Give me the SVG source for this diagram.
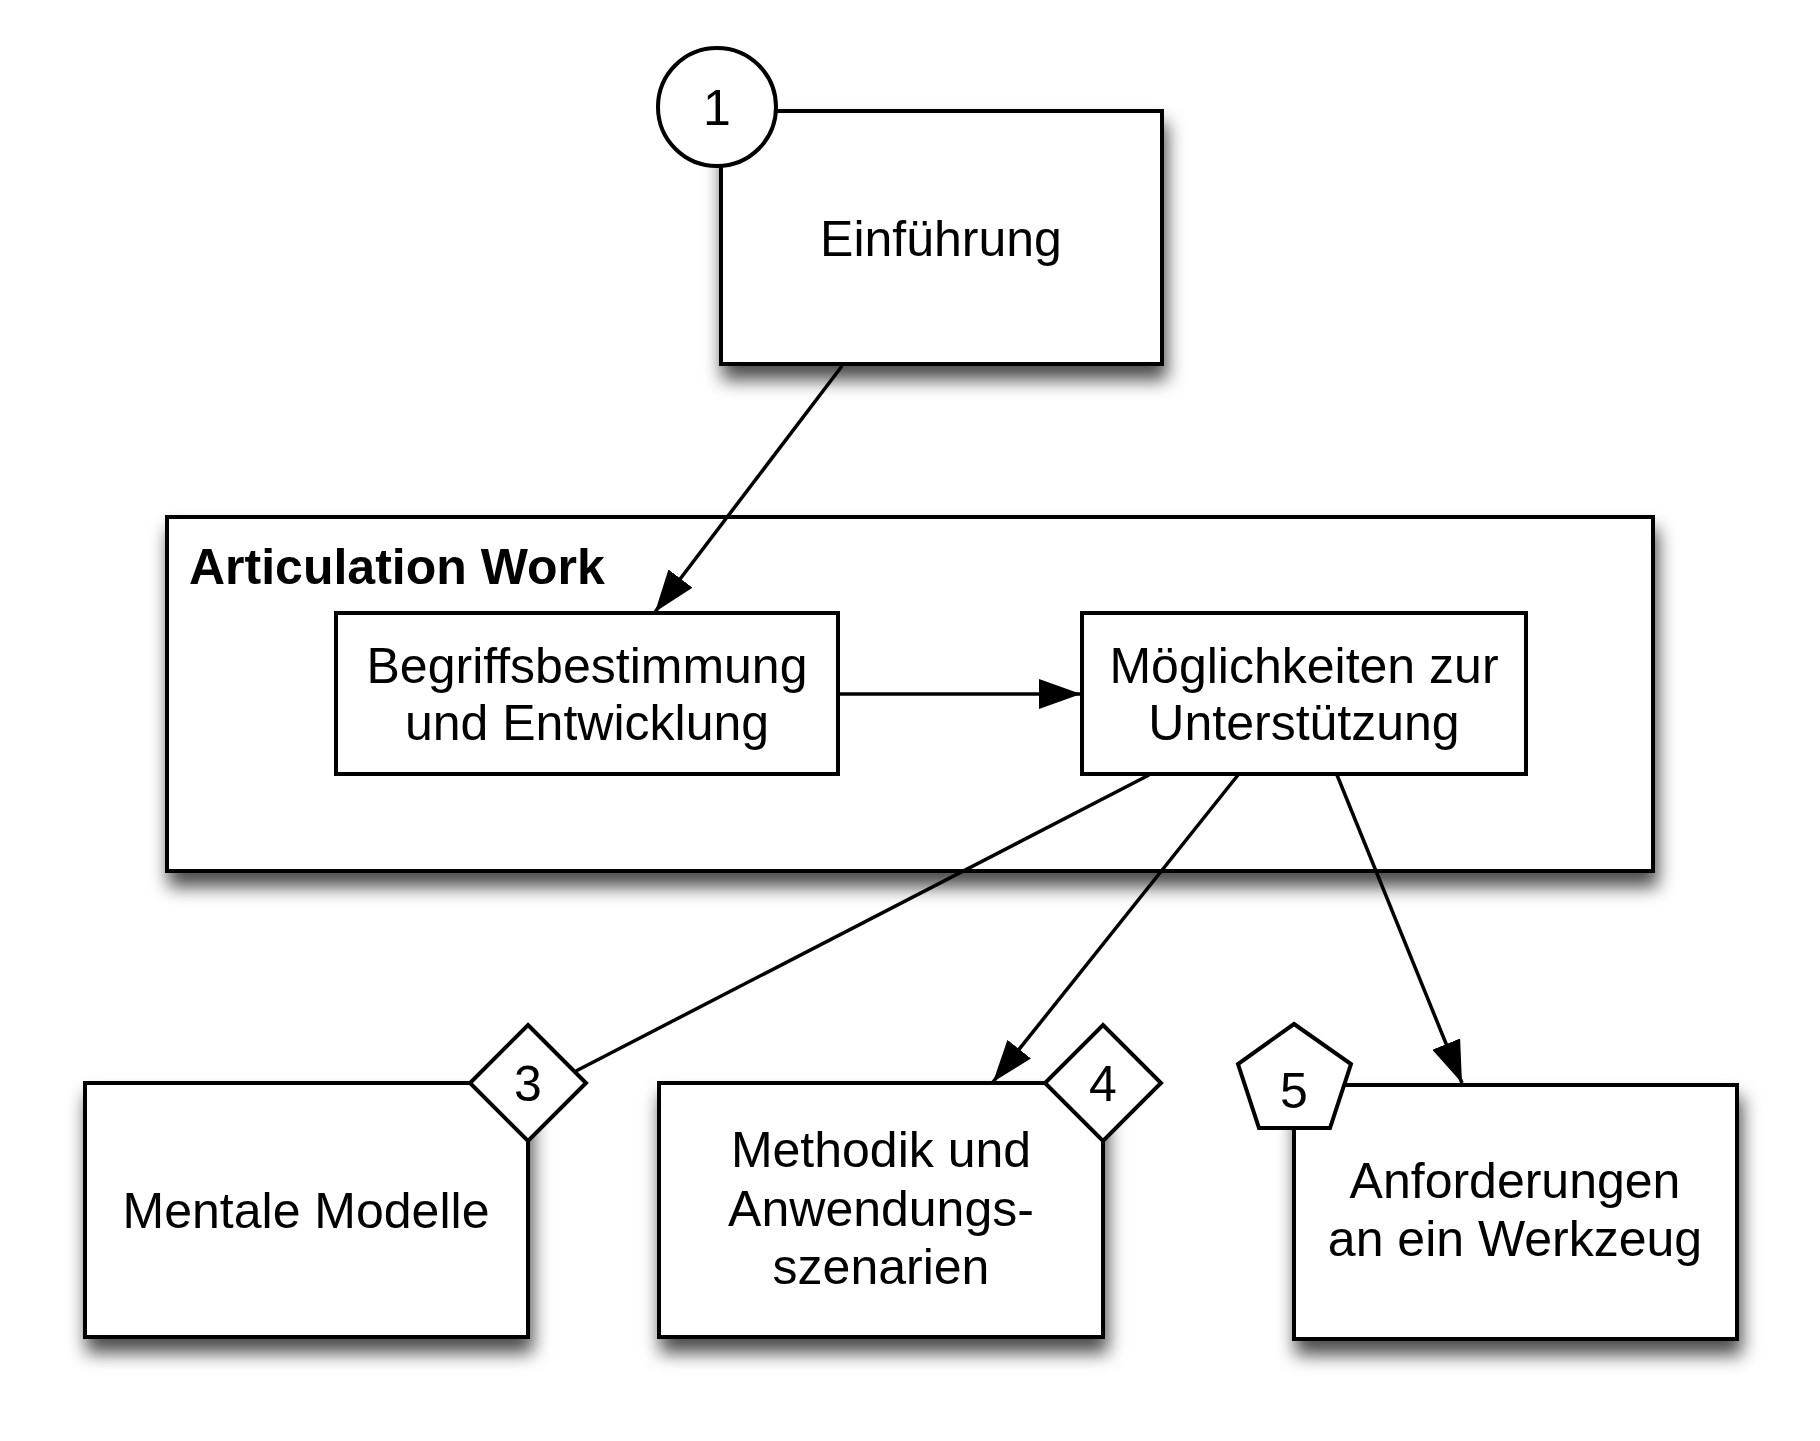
<svg xmlns="http://www.w3.org/2000/svg" width="1820" height="1441" viewBox="0 0 1820 1441">
<style>
.box{fill:#fff;stroke:#000;stroke-width:4}
.sh{filter:url(#shadow)}
.lbl{font-family:"Liberation Sans",Arial,sans-serif;font-size:50px;fill:#000;text-anchor:middle}
.bold{font-weight:bold;text-anchor:start}
.con{fill:none;stroke:#000;stroke-width:3.5}
</style>
<defs>
<filter id="shadow" x="-10%" y="-10%" width="125%" height="140%">
<feDropShadow dx="3" dy="14" stdDeviation="9" flood-color="#000" flood-opacity="0.7"/>
</filter>
<marker id="arr" markerUnits="userSpaceOnUse" markerWidth="44" markerHeight="30" refX="42" refY="15" orient="auto">
<path d="M0,0 L42,15 L0,30 Z" fill="#000"/>
</marker>
</defs>
<rect width="1820" height="1441" fill="#fff"/>
<g id="articulation-work">
<rect class="box sh" x="167" y="517" width="1486" height="354"/>
<text class="lbl bold" x="189" y="584">Articulation Work</text>
</g>
<g id="einfuehrung">
<rect class="box sh" x="721" y="111" width="441" height="253"/>
<circle class="box" cx="717" cy="107" r="59"/>
<text class="lbl" x="717" y="125">1</text>
<text class="lbl" x="941" y="256">Einführung</text>
</g>
<g id="begriffsbestimmung">
<rect class="box" x="336" y="613" width="502" height="161"/>
<text class="lbl" x="587" y="683">Begriffsbestimmung</text>
<text class="lbl" x="587" y="740">und Entwicklung</text>
</g>
<g id="moeglichkeiten">
<rect class="box" x="1082" y="613" width="444" height="161"/>
<text class="lbl" x="1304" y="683">Möglichkeiten zur</text>
<text class="lbl" x="1304" y="740">Unterstützung</text>
</g>
<g id="connectors">
<line class="con" x1="842" y1="366" x2="655" y2="612" marker-end="url(#arr)"/>
<line class="con" x1="838" y1="694" x2="1081" y2="694" marker-end="url(#arr)"/>
<line class="con" x1="1149" y1="775" x2="576" y2="1071"/>
<line class="con" x1="1238" y1="775" x2="993" y2="1082" marker-end="url(#arr)"/>
<line class="con" x1="1337" y1="775" x2="1462" y2="1083" marker-end="url(#arr)"/>
</g>
<g id="mentale-modelle">
<rect class="box sh" x="85" y="1083" width="443" height="254"/>
<path class="box" d="M528,1025 L586,1083 L528,1141 L470,1083 Z"/>
<text class="lbl" x="528" y="1101">3</text>
<text class="lbl" x="306" y="1228">Mentale Modelle</text>
</g>
<g id="methodik">
<rect class="box sh" x="659" y="1083" width="444" height="254"/>
<path class="box" d="M1103,1025 L1161,1083 L1103,1141 L1045,1083 Z"/>
<text class="lbl" x="1103" y="1101">4</text>
<text class="lbl" x="881" y="1167">Methodik und</text>
<text class="lbl" x="881" y="1226">Anwendungs-</text>
<text class="lbl" x="881" y="1284">szenarien</text>
</g>
<g id="anforderungen">
<rect class="box sh" x="1294" y="1085" width="443" height="254"/>
<path class="box" d="M1294,1024 L1351,1064 L1330,1128 L1259,1128 L1238,1064 Z"/>
<text class="lbl" x="1294" y="1108">5</text>
<text class="lbl" x="1515" y="1198">Anforderungen</text>
<text class="lbl" x="1515" y="1256">an ein Werkzeug</text>
</g>
</svg>
